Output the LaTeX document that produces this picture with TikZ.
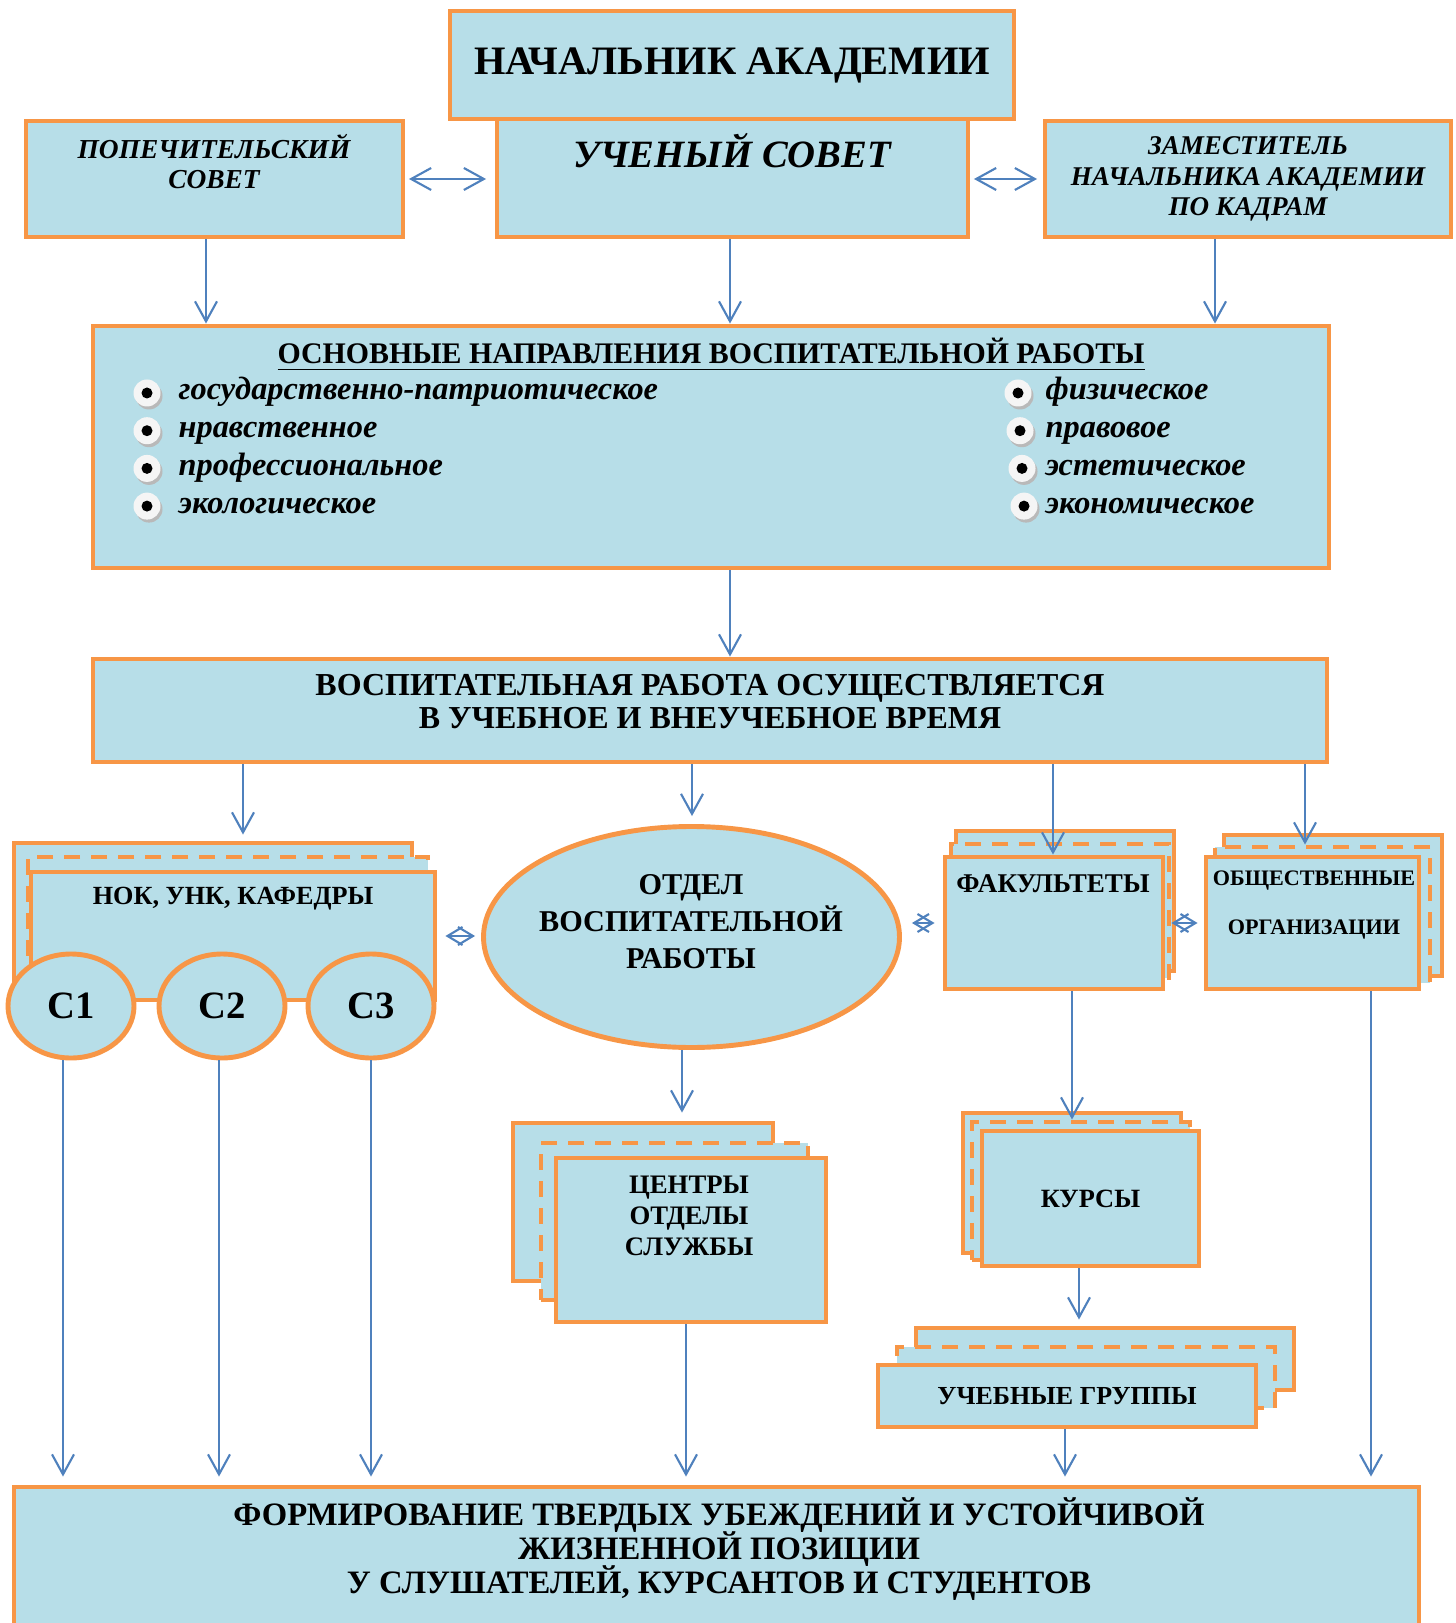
\documentclass[tikz,border=0pt]{standalone}
\usepackage{fontspec}
\setmainfont{Liberation Serif}
\usetikzlibrary{positioning,shapes.geometric,arrows.meta,calc}
\usepackage{xcolor}
\definecolor{boxblue}{RGB}{183,222,232}
\definecolor{frameorange}{RGB}{247,150,70}
\definecolor{arrowblue}{RGB}{79,129,189}
\setlength{\lineskiplimit}{-20pt}

\begin{document}
\begin{tikzpicture}[
    box/.style={draw=frameorange,line width=1.4pt,fill=boxblue,rectangle,inner sep=0pt},
    dbox/.style={box,dash pattern=on 1.6mm off 1.1mm},
    oval/.style={box,ellipse},
    arr/.style={draw=arrowblue,line width=0.6pt,-{Straight Barb[length=2mm,width=2.2mm]}},
    larr/.style={draw=arrowblue,line width=0.6pt,{Straight Barb[length=2mm,width=2.2mm]}-{Straight Barb[length=2mm,width=2.2mm]}},
    darr/.style={draw=arrowblue,line width=0.6pt,{Straight Barb[length=1.5mm,width=1.8mm]}-{Straight Barb[length=1.5mm,width=1.8mm]}},
    item/.style={anchor=base west,inner sep=0pt,font=\fontsize{9.2}{11}\selectfont\bfseries\itshape}
]
    \useasboundingbox (0,0) rectangle (14.56,-16.23);
    \clip (0,0) rectangle (14.56,-16.23);
    \fill[white] (0,0) rectangle (14.56,-16.23);

    % Head and council
    \node[box,minimum width=4.71cm,minimum height=1.18cm] (sovet) at (7.325,-1.78) {};
    \node[box,minimum width=5.64cm,minimum height=1.08cm,font=\fontsize{11.5}{13}\selectfont\bfseries] (nach) at (7.32,-0.65) {НАЧАЛЬНИК АКАДЕМИИ};
    \node[font=\fontsize{11}{13}\selectfont\bfseries\itshape] (sovettxt) at (7.32,-1.51) {УЧЕНЫЙ СОВЕТ};

    % Trustees
    \node[box,minimum width=3.77cm,minimum height=1.16cm] (pop) at (2.145,-1.79) {};
    \node[align=center,font=\fontsize{7.8}{8.8}\selectfont\bfseries\itshape] (poptxt) at (2.14,-1.615) {ПОПЕЧИТЕЛЬСКИЙ\\СОВЕТ};

    % Deputy
    \node[box,minimum width=4.06cm,minimum height=1.16cm,align=center,font=\fontsize{7.7}{8.6}\selectfont\bfseries\itshape] (zam) at (12.48,-1.79) {ЗАМЕСТИТЕЛЬ\\НАЧАЛЬНИКА АКАДЕМИИ\\ПО КАДРАМ};

    % Main directions
    \node[box,minimum width=12.36cm,minimum height=2.42cm] (dir) at (7.11,-4.47) {};
    \node[anchor=base,font=\fontsize{8.5}{10}\selectfont\bfseries] (dirtitle) at (7.11,-3.64) {\underline{ОСНОВНЫЕ НАПРАВЛЕНИЯ ВОСПИТАТЕЛЬНОЙ РАБОТЫ}};
    \foreach \t [count=\i] in {государственно-патриотическое,нравственное,профессиональное,экологическое} {
        \node[item] (lft\i) at (1.78,{-4.00-0.377*(\i-1)}) {\t};
        \fill[gray!55] ($(lft\i.base west)+(-0.29,0.04)$) circle (0.135);
        \fill[gray!8] ($(lft\i.base west)+(-0.31,0.07)$) circle (0.135);
        \fill[black] ($(lft\i.base west)+(-0.31,0.07)$) circle (0.055);
    }
    \foreach \t [count=\i] in {физическое,правовое,эстетическое,экономическое} {
        \node[item] (rgt\i) at (10.45,{-4.00-0.377*(\i-1)}) {\t};
        \fill[gray!55] ($(rgt\i.base west)+({-0.27+0.02*\i},0.04)$) circle (0.135);
        \fill[gray!8] ($(rgt\i.base west)+({-0.29+0.02*\i},0.07)$) circle (0.135);
        \fill[black] ($(rgt\i.base west)+({-0.29+0.02*\i},0.07)$) circle (0.055);
    }

    % Educational work
    \node[box,minimum width=12.34cm,minimum height=1.03cm] (vosp) at (7.10,-7.105) {};
    \node[align=center,font=\fontsize{9.1}{9.4}\selectfont\bfseries] (vosptxt) at (7.10,-7.02) {ВОСПИТАТЕЛЬНАЯ РАБОТА ОСУЩЕСТВЛЯЕТСЯ\\В УЧЕБНОЕ И ВНЕУЧЕБНОЕ ВРЕМЯ};

    % Departments
    \node[box,minimum width=3.98cm,minimum height=1.57cm] (nokB) at (2.13,-9.215) {};
    \node[dbox,minimum width=4.00cm,minimum height=1.43cm] (nokM) at (2.28,-9.285) {};
    \node[box,minimum width=4.04cm,minimum height=1.28cm] (nok) at (2.33,-9.36) {};
    \node[font=\fontsize{7.45}{8.5}\selectfont\bfseries] (noktxt) at (2.33,-8.99) {НОК, УНК, КАФЕДРЫ};
    \foreach \x [count=\i] in {0.71,2.22,3.71} {
        \node[oval,minimum width=1.26cm,minimum height=1.04cm,font=\fontsize{11}{13}\selectfont\bfseries] (c\i) at (\x,-10.06) {С\i};
    }

    % Department of educational work
    \node[oval,minimum width=4.16cm,minimum height=2.21cm] (otd) at (6.915,-9.37) {};
    \node[align=center,font=\fontsize{8.6}{10.5}\selectfont\bfseries] (otdtxt) at (6.91,-9.22) {ОТДЕЛ\\ВОСПИТАТЕЛЬНОЙ\\РАБОТЫ};

    % Centres
    \node[box,minimum width=2.60cm,minimum height=1.58cm] (centB) at (6.43,-12.02) {};
    \node[dbox,minimum width=2.67cm,minimum height=1.57cm] (centM) at (6.745,-12.215) {};
    \node[box,minimum width=2.70cm,minimum height=1.64cm] (cent) at (6.91,-12.40) {};
    \node[align=center,font=\fontsize{7.6}{8.8}\selectfont\bfseries] (centtxt) at (6.89,-12.16) {ЦЕНТРЫ\\ОТДЕЛЫ\\СЛУЖБЫ};

    % Faculties
    \node[box,minimum width=2.18cm,minimum height=1.40cm] (fakB) at (10.65,-9.01) {};
    \node[dbox,minimum width=2.18cm,minimum height=1.34cm] (fakM) at (10.60,-9.11) {};
    \node[box,minimum width=2.18cm,minimum height=1.32cm] (fak) at (10.54,-9.23) {};
    \node[font=\fontsize{7.7}{9}\selectfont\bfseries] (faktxt) at (10.53,-8.84) {ФАКУЛЬТЕТЫ};

    % Public organisations
    \node[box,minimum width=2.18cm,minimum height=1.41cm] (obsB) at (13.33,-9.055) {};
    \node[dbox,minimum width=2.15cm,minimum height=1.36cm] (obsM) at (13.225,-9.15) {};
    \node[box,minimum width=2.13cm,minimum height=1.32cm] (obs) at (13.125,-9.23) {};
    \node[align=center,font=\fontsize{6.3}{13.7}\selectfont\bfseries] (obstxt) at (13.14,-9.05) {ОБЩЕСТВЕННЫЕ\\ОРГАНИЗАЦИИ};

    % Courses
    \node[box,minimum width=2.18cm,minimum height=1.40cm] (kurB) at (10.72,-11.83) {};
    \node[dbox,minimum width=2.18cm,minimum height=1.38cm] (kurM) at (10.81,-11.91) {};
    \node[box,minimum width=2.17cm,minimum height=1.35cm,font=\fontsize{7.5}{9}\selectfont\bfseries] (kur) at (10.905,-11.985) {КУРСЫ};

    % Study groups
    \node[box,minimum width=3.78cm,minimum height=0.62cm] (grpB) at (11.05,-13.59) {};
    \node[dbox,minimum width=3.78cm,minimum height=0.61cm] (grpM) at (10.86,-13.775) {};
    \node[box,minimum width=3.78cm,minimum height=0.62cm,font=\fontsize{7.4}{9}\selectfont\bfseries] (grp) at (10.67,-13.96) {УЧЕБНЫЕ ГРУППЫ};

    % Result
    \node[box,minimum width=14.05cm,minimum height=2.13cm] (form) at (7.165,-15.935) {};
    \node[align=center,font=\fontsize{9.3}{9.6}\selectfont\bfseries] (formtxt) at (7.19,-15.49) {ФОРМИРОВАНИЕ ТВЕРДЫХ УБЕЖДЕНИЙ И УСТОЙЧИВОЙ\\ЖИЗНЕННОЙ ПОЗИЦИИ\\У СЛУШАТЕЛЕЙ, КУРСАНТОВ И СТУДЕНТОВ};

    % Connectors
    \draw[larr,shorten <=0.035cm,shorten >=0.085cm] (pop.east) -- (sovet.west |- pop.east);
    \draw[larr,shorten <=0.035cm,shorten >=0.055cm] (sovet.east |- zam.west) -- (zam.west);
    \draw[arr] (pop.south -| 2.06,0) -- (dir.north -| 2.06,0);
    \draw[arr] (sovet.south -| 7.30,0) -- (dir.north -| 7.30,0);
    \draw[arr] (zam.south -| 12.15,0) -- (dir.north -| 12.15,0);
    \draw[arr] (dir.south -| 7.30,0) -- (vosp.north -| 7.30,0);
    \draw[arr,shorten >=0.06cm] (vosp.south -| 2.43,0) -- (nokB.north -| 2.43,0);
    \draw[arr,shorten >=0.08cm] (vosp.south -| 6.92,0) -- (otd.north -| 6.92,0);
    \draw[arr] (vosp.south -| 10.53,0) -- (fak.north -| 10.53,0);
    \draw[arr] (vosp.south -| 13.05,0) -- (obsM.north -| 13.05,0);
    \draw[darr,shorten <=0.08cm,shorten >=0.06cm] (nok.east) -- (otd.west |- nok.east);
    \draw[darr,shorten <=0.1cm,shorten >=0.08cm] (otd.east |- fak.west) -- (fak.west);
    \draw[darr,shorten <=0.06cm,shorten >=0.06cm] (fak.east) -- (obs.west);
    \draw[arr,shorten >=0.08cm] (otd.south -| 6.82,0) -- (centB.north -| 6.82,0);
    \draw[arr] (fak.south -| 10.72,0) -- (kurM.north -| 10.72,0);
    \draw[arr,shorten >=0.06cm] (kur.south -| 10.79,0) -- (grpB.north -| 10.79,0);
    \draw[arr,shorten >=0.08cm] (c1.south -| 0.63,0) -- (form.north -| 0.63,0);
    \draw[arr,shorten >=0.08cm] (c2.south -| 2.19,0) -- (form.north -| 2.19,0);
    \draw[arr,shorten >=0.08cm] (c3.south -| 3.71,0) -- (form.north -| 3.71,0);
    \draw[arr,shorten >=0.08cm] (cent.south -| 6.86,0) -- (form.north -| 6.86,0);
    \draw[arr,shorten >=0.08cm] (grp.south -| 10.65,0) -- (form.north -| 10.65,0);
    \draw[arr,shorten >=0.08cm] (obs.south -| 13.71,0) -- (form.north -| 13.71,0);
\end{tikzpicture}
\end{document}
